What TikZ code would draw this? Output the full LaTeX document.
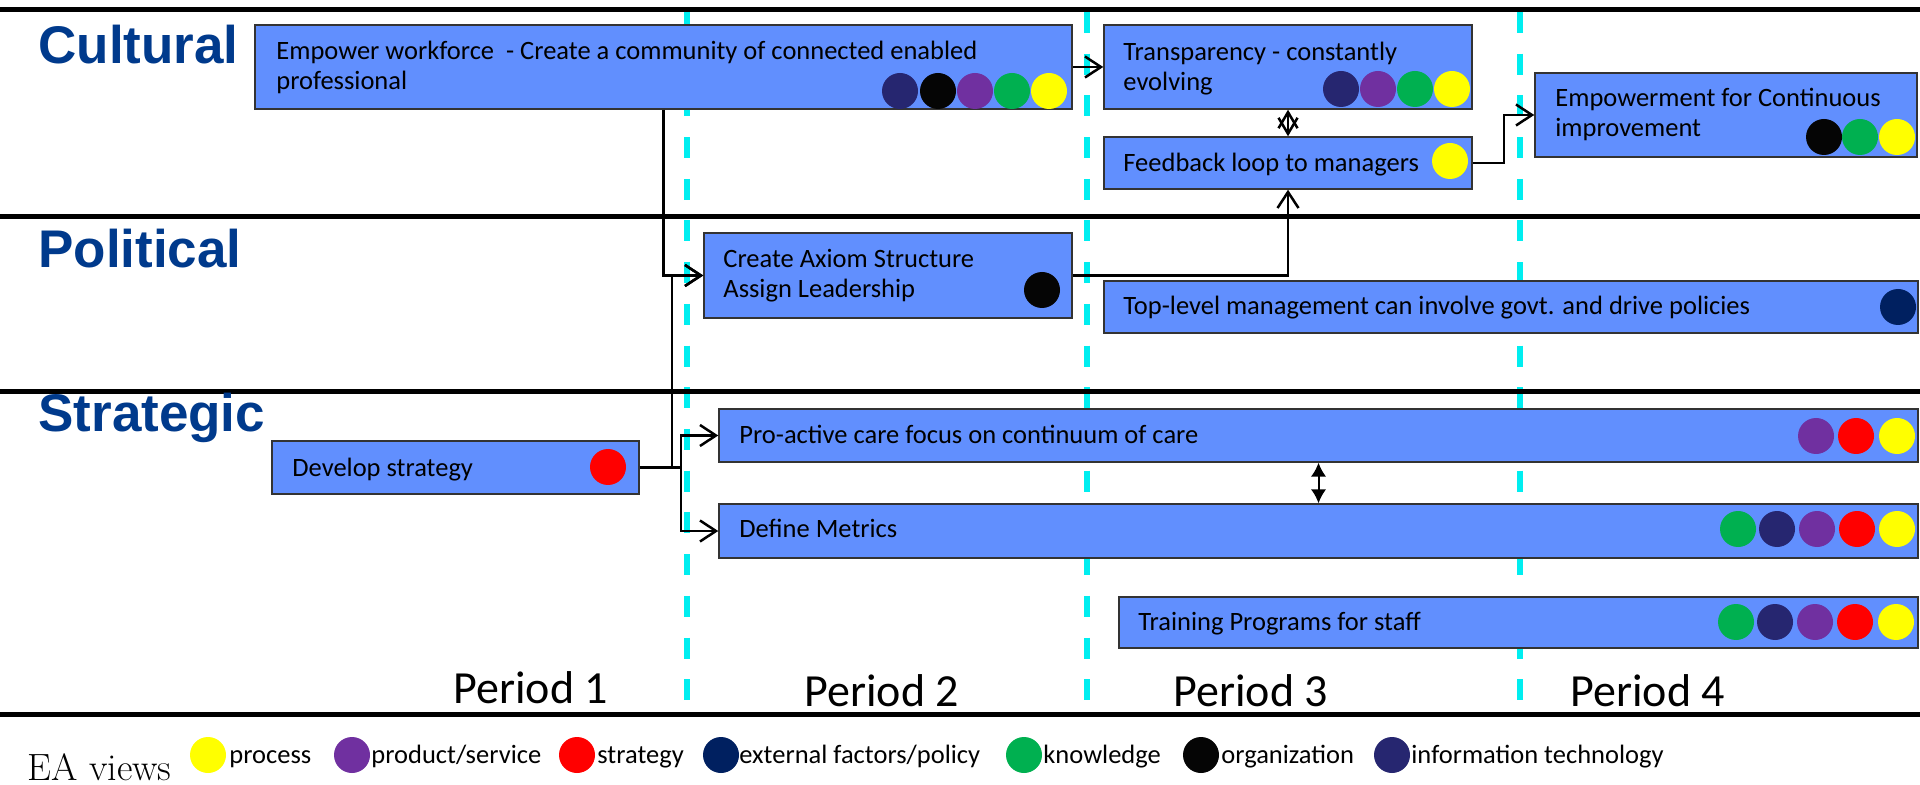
\documentclass[tikz,border=0pt]{standalone}
\usepackage{fontspec}
\newfontfamily\bodyfont{Carlito}
\newfontfamily\headfont{Liberation Sans}
\usetikzlibrary{arrows.meta,fit}

\definecolor{boxblue}{RGB}{97,143,254}
\definecolor{rowblue}{RGB}{0,58,140}
\definecolor{gridcyan}{RGB}{0,238,240}
\definecolor{vprocess}{RGB}{255,255,0}
\definecolor{vproduct}{RGB}{112,48,160}
\definecolor{vstrategy}{RGB}{255,0,0}
\definecolor{vpolicy}{RGB}{0,32,96}
\definecolor{vknowledge}{RGB}{0,176,80}
\definecolor{vorg}{RGB}{5,5,5}
\definecolor{vit}{RGB}{38,38,112}

% one filled view marker: colour, x, y
\newcommand\eadot[3]{\fill[#1] (#2,#3) circle[radius=18];}

\tikzset{
  box/.style={draw=black!80, line width=0.75pt, fill=boxblue, inner sep=0pt},
  % anchored on the baseline of the last line of text
  txt/.style={anchor=base west, inner sep=0pt, align=left,
              font=\bodyfont\fontsize{13.25pt}{15.25pt}\selectfont},
  rowlabel/.style={anchor=base west, inner sep=0pt, text=rowblue,
              font=\headfont\bfseries\fontsize{26.5pt}{30pt}\selectfont},
  period/.style={anchor=base west, inner sep=0pt,
              font=\bodyfont\fontsize{23pt}{27pt}\selectfont},
  legtxt/.style={anchor=base west, inner sep=0pt,
              font=\bodyfont\fontsize{13.25pt}{16pt}\selectfont},
  lane/.style={line width=2.5pt},
  periodline/.style={gridcyan, line width=2.8pt, dash pattern=on 10.5pt off 10.35pt},
  link/.style={line width=1.25pt, -{Straight Barb[length=8pt,width=10.5pt]}},
  duallink/.style={line width=1.25pt,
     {Straight Barb[length=8pt,width=9.5pt]}-{Straight Barb[length=8pt,width=9.5pt]}},
  solidlink/.style={line width=1pt,
     {Latex[length=7pt,width=7.75pt]}-{Latex[length=7pt,width=7.75pt]}},
}

\begin{document}
\begin{tikzpicture}[x=0.5pt, y=-0.5pt]
\fill[white] (0,0) rectangle (1920,785);
\useasboundingbox (0,0) rectangle (1920,785);

% period separators
\foreach \px in {687,1087,1520}
  \draw[periodline] (\px,12) -- (\px,714);

% swimlane borders
\foreach \ly in {10,217,392,714}
  \draw[lane] (0,\ly) -- (1920,\ly);

% lane titles
\node[rowlabel] (lcult) at (38,64)  {Cultural};
\node[rowlabel] (lpol)  at (38,268) {Political};
\node[rowlabel] (lstr)  at (38,432) {Strategic};

% activity boxes
\node[box, fit={(255,25) (1072,109)}]   (emp) {};
\node[box, fit={(1104,25) (1472,109)}]  (tra) {};
\node[box, fit={(1104,137) (1472,189)}] (fb)  {};
\node[box, fit={(1535,73) (1917,157)}]  (emw) {};
\node[box, fit={(704,233) (1072,318)}]  (cax) {};
\node[box, fit={(1104,281) (1918,333)}] (top) {};
\node[box, fit={(272,441) (639,494)}]   (dev) {};
\node[box, fit={(719,409) (1918,462)}]  (pro) {};
\node[box, fit={(719,504) (1918,558)}]  (def) {};
\node[box, fit={(1119,597) (1918,648)}] (trn) {};

% box texts
\node[txt] (empT) at (276,90)   {Empower workforce~ - Create a community of connected enabled\\professional};
\node[txt] (traT) at (1123,91)  {Transparency - constantly\\evolving};
\node[txt] (fbT)  at (1123,172) {Feedback loop to managers};
\node[txt] (emwT) at (1555,137) {Empowerment for Continuous\\improvement};
\node[txt] (caxT) at (723,298)  {Create Axiom Structure\\Assign Leadership};
\node[txt] (topT) at (1123,315) {Top-level management can involve govt. and drive policies};
\node[txt] (devT) at (292,476)  {Develop strategy};
\node[txt] (proT) at (739,444)  {Pro-active care focus on continuum of care};
\node[txt] (defT) at (739,538)  {Define Metrics};
\node[txt] (trnT) at (1138,630) {Training Programs for staff};

% view markers in the boxes
\eadot{vit}{900}{91} \eadot{vorg}{938}{91} \eadot{vproduct}{975}{91}
\eadot{vknowledge}{1012}{91} \eadot{vprocess}{1049}{91}
\eadot{vit}{1341}{89} \eadot{vproduct}{1378}{89} \eadot{vknowledge}{1415}{89}
\eadot{vprocess}{1452}{89}
\eadot{vprocess}{1450}{161}
\eadot{vorg}{1824}{137} \eadot{vknowledge}{1860}{137} \eadot{vprocess}{1897}{137}
\eadot{vorg}{1042}{290}
\eadot{vpolicy}{1898}{307}
\eadot{vstrategy}{608}{467}
\eadot{vproduct}{1816}{436} \eadot{vstrategy}{1856}{436} \eadot{vprocess}{1897}{436}
\eadot{vknowledge}{1738}{529} \eadot{vit}{1777}{529} \eadot{vproduct}{1817}{529}
\eadot{vstrategy}{1857}{529} \eadot{vprocess}{1897}{529}
\eadot{vknowledge}{1736}{622} \eadot{vit}{1775}{622} \eadot{vproduct}{1815}{622}
\eadot{vstrategy}{1855}{622} \eadot{vprocess}{1896}{622}

% dependencies
\draw[link] (emp) -- (tra);
\draw[link] (emp.south) |- (cax.west);
\draw[link] (dev.east) -- ++(32,0) |- (cax.west);
\draw[link] (dev.east) -- ++(41,0) |- (pro.west);
\draw[link] (dev.east) -- ++(41,0) |- (def.west);
\draw[link] (cax.east) -| (fb.south);
\draw[duallink] (fb.north) -- (tra.south);
\draw[link] (fb.east) -- ++(31,0) |- (emw.west);
\draw[solidlink] (pro.south) -- (def.north);

% periods
\node[period] (p1) at (453,703)  {Period 1};
\node[period] (p2) at (804,706)  {Period 2};
\node[period] (p3) at (1173,706) {Period 3};
\node[period] (p4) at (1570,706) {Period 4};

% legend of EA views
\node[anchor=base west, inner sep=0pt, font=\fontsize{19pt}{22pt}\selectfont] (ea) at (27,780) {EA views};
\eadot{vprocess}{208}{755}   \node[legtxt] (lg1) at (229,763)  {process};
\eadot{vproduct}{352}{755}   \node[legtxt] (lg2) at (371,763)  {product/service};
\eadot{vstrategy}{577}{755}  \node[legtxt] (lg3) at (597,763)  {strategy};
\eadot{vpolicy}{721}{755}    \node[legtxt] (lg4) at (739,763)  {external factors/policy};
\eadot{vknowledge}{1024}{755}\node[legtxt] (lg5) at (1043,763) {knowledge};
\eadot{vorg}{1201}{755}      \node[legtxt] (lg6) at (1221,763) {organization};
\eadot{vit}{1392}{755}       \node[legtxt] (lg7) at (1411,763) {information technology};
\end{tikzpicture}
\end{document}
